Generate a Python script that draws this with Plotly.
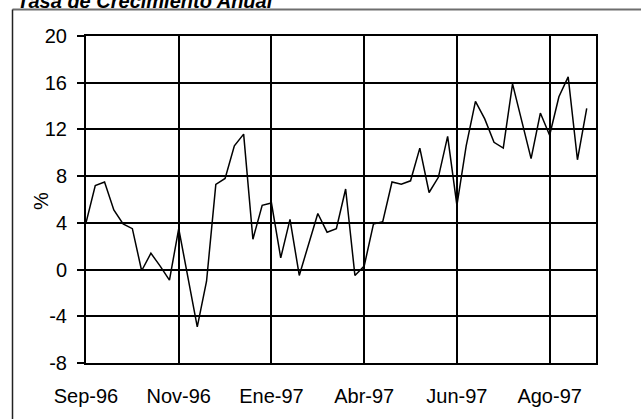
import plotly.graph_objects as go

# Weekly annual growth rate (%), Sep-96 onwards
week = list(range(55))
tasa = [4.0, 7.2, 7.5, 5.1, 3.9, 3.5, -0.1, 1.4, 0.3, -0.9,
        3.5, -0.8, -4.9, -1.0, 7.3, 7.8, 10.6, 11.6, 2.6, 5.5,
        5.7, 1.0, 4.3, -0.5, 2.2, 4.8, 3.2, 3.5, 6.9, -0.5,
        0.3, 3.9, 4.1, 7.5, 7.3, 7.6, 10.4, 6.6, 7.9, 11.4,
        5.5, 10.6, 14.4, 12.9, 10.9, 10.4, 15.9, 12.6, 9.5, 13.4,
        11.5, 14.8, 16.5, 9.4, 13.8]
tick_weeks = [0, 10, 20, 30, 40, 50]
tick_labels = ["Sep-96", "Nov-96", "Ene-97", "Abr-97", "Jun-97", "Ago-97"]
y_ticks = [-8, -4, 0, 4, 8, 12, 16, 20]
y_tick_labels = ["-8", "-4", "0", "4", "8", "12", "16", "20"]
title_text = "Tasa de Crecimiento Anual"
y_label = "%"

W, H = 641, 419
ML, MR, MT, MB = 86, 45, 36, 56
PW, PH = W - ML - MR, H - MT - MB

def px_x(p):
    return (p - ML) / PW

def px_y(p):
    return (H - MB - p) / PH

FONT = "Arial, Liberation Sans, sans-serif"

fig = go.Figure()
fig.add_trace(go.Scatter(x=week, y=tasa, mode="lines",
                         line=dict(color="black", width=1.5),
                         showlegend=False, cliponaxis=False))

fig.update_layout(
    width=W, height=H,
    margin=dict(l=ML, r=MR, t=MT, b=MB, autoexpand=False),
    paper_bgcolor="white", plot_bgcolor="white",
    font=dict(family=FONT, size=20, color="black"),
    xaxis=dict(range=[0, 55], tickvals=tick_weeks, ticktext=tick_labels,
               showgrid=True, gridcolor="black", gridwidth=1.5,
               showline=True, linecolor="black", linewidth=2, mirror=True,
               ticks="", ticklabelstandoff=14, zeroline=False,
               tickfont=dict(size=20)),
    yaxis=dict(range=[y_ticks[0], y_ticks[-1]], tickvals=y_ticks, ticktext=y_tick_labels,
               showgrid=True, gridcolor="black", gridwidth=1.5,
               showline=True, linecolor="black", linewidth=2, mirror=True,
               ticks="outside", ticklen=7, tickcolor="black", tickwidth=1.5,
               ticklabelstandoff=6, zeroline=False,
               tickfont=dict(size=20)),
    shapes=[
        dict(type="line", xref="paper", yref="paper",
             x0=px_x(12.5), x1=1.3, y0=px_y(9.5), y1=px_y(9.5),
             line=dict(color="#6e6e6e", width=2)),
        dict(type="line", xref="paper", yref="paper",
             x0=px_x(12.5), x1=px_x(12.5), y0=px_y(9.5), y1=-0.5,
             line=dict(color="#222222", width=1.5)),
    ],
    annotations=[
        dict(text="<b><i>" + title_text + "</i></b>", xref="paper", yref="paper",
             x=px_x(15), y=px_y(1), xanchor="left", yanchor="middle",
             showarrow=False, font=dict(size=20, family=FONT, color="black")),
        dict(text=y_label, xref="paper", yref="paper",
             x=px_x(41), y=px_y(201), xanchor="center", yanchor="middle",
             textangle=-90, showarrow=False, font=dict(size=20, family=FONT)),
    ],
)

fig.write_html("out.html", config={"displayModeBar": False},
               post_script="document.body.style.margin='0';document.body.style.overflow='hidden';")
